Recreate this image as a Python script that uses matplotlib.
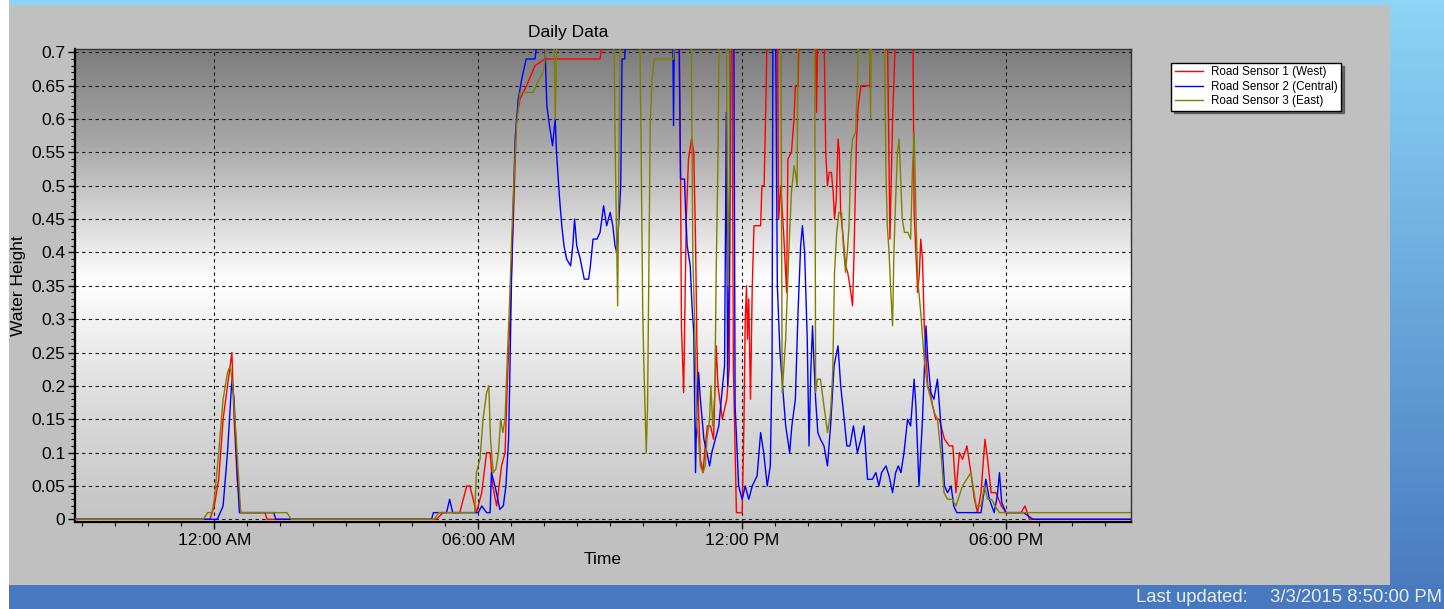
import matplotlib
matplotlib.use("Agg")
import matplotlib.pyplot as plt
import numpy as np
from matplotlib.patches import Rectangle
from matplotlib.ticker import MultipleLocator

plt.rcParams["font.family"] = ["Liberation Sans", "DejaVu Sans"]

W, H = 1444, 609

# Time axis: hours from midnight of 3/3/2015 (window 8:50 PM -> 8:50 PM).
X_START, X_END = -3 - 10 / 60, 20 + 50 / 60
X_TICKS = [0, 6, 12, 18]
X_TICK_LABELS = ["12:00 AM", "06:00 AM", "12:00 PM", "06:00 PM"]
Y_TICKS = [0, 0.05, 0.1, 0.15, 0.2, 0.25, 0.3, 0.35, 0.4, 0.45, 0.5, 0.55, 0.6, 0.65, 0.7]
Y_TICK_LABELS = ["0", "0.05", "0.1", "0.15", "0.2", "0.25", "0.3", "0.35", "0.4",
                 "0.45", "0.5", "0.55", "0.6", "0.65", "0.7"]

LABELS = ["Road Sensor 1 (West)", "Road Sensor 2 (Central)", "Road Sensor 3 (East)"]
COLORS = ["#ff0000", "#0000ff", "#808000"]

# readings of 0.75 are off the top of the 0.7 scale
RED_T = [-3.17, -0.1, 0.0, 0.1, 0.2, 0.3, 0.4, 0.45, 0.52, 0.6, 1.15, 1.2,
         5.05, 5.2, 5.58, 5.74, 5.81, 5.96, 6.0, 6.08, 6.19, 6.27, 6.33, 6.42, 6.53, 6.61,
         6.66, 6.72, 6.8, 6.87, 6.95, 7.1, 7.29, 7.52, 8.77, 8.89,
         10.57, 10.59, 10.6, 10.62, 10.67, 10.73, 10.78, 10.85, 10.9, 10.94, 10.97, 11.01,
         11.05, 11.11, 11.16, 11.21, 11.28, 11.35, 11.41, 11.45, 11.55, 11.65, 11.71, 11.74,
         11.77, 11.8, 11.84, 11.87, 12.0, 12.04, 12.07, 12.1, 12.12, 12.15, 12.19, 12.23,
         12.27, 12.42, 12.45, 12.5, 12.55, 12.57, 12.8, 12.83, 12.88, 12.95, 13.01, 13.04,
         13.12, 13.18, 13.21, 13.27, 13.3, 13.66, 13.69, 13.72, 13.86, 13.9, 13.94, 13.98,
         14.03, 14.07, 14.1, 14.14, 14.18, 14.21, 14.24, 14.3, 14.35, 14.4, 14.45, 14.51,
         14.54, 14.6, 14.64, 14.7, 14.9, 14.93, 15.3, 15.36, 15.42, 15.5, 15.88, 15.91,
         15.95, 15.99, 16.03, 16.06, 16.1, 16.14, 16.18, 16.22, 16.28, 16.33, 16.4, 16.48,
         16.6, 16.71, 16.79, 16.86, 16.94, 17.01, 17.11, 17.2, 17.28, 17.35, 17.43, 17.52,
         17.58, 17.66, 17.77, 17.89, 18.0, 18.34, 18.43, 18.53, 20.84]
RED_V = [0, 0, 0.02, 0.06, 0.15, 0.2, 0.25, 0.15, 0.06, 0.01, 0.01, 0,
         0, 0.01, 0.01, 0.05, 0.05, 0.01, 0.02, 0.04, 0.1, 0.1, 0.05, 0.02, 0.08, 0.1,
         0.2, 0.3, 0.45, 0.6, 0.63, 0.65, 0.68, 0.69, 0.69, 0.75,
         0.75, 0.6, 0.51, 0.29, 0.19, 0.45, 0.54, 0.57, 0.55, 0.42, 0.27, 0.16,
         0.09, 0.07, 0.11, 0.14, 0.14, 0.12, 0.26, 0.2, 0.15, 0.18, 0.23, 0.75,
         0.75, 0.23, 0.1, 0.01, 0.01, 0.14, 0.3, 0.35, 0.27, 0.33, 0.18, 0.35,
         0.44, 0.44, 0.5, 0.5, 0.66, 0.75, 0.75, 0.45, 0.5, 0.42, 0.34, 0.54,
         0.55, 0.6, 0.65, 0.65, 0.75, 0.75, 0.61, 0.75, 0.75, 0.55, 0.5, 0.52,
         0.52, 0.49, 0.45, 0.48, 0.57, 0.55, 0.46, 0.42, 0.38, 0.37, 0.35, 0.32,
         0.39, 0.57, 0.62, 0.65, 0.65, 0.75, 0.75, 0.42, 0.6, 0.75, 0.75, 0.46,
         0.4, 0.34, 0.37, 0.42, 0.39, 0.29, 0.25, 0.2, 0.19, 0.17, 0.15, 0.15,
         0.12, 0.11, 0.11, 0.04, 0.1, 0.09, 0.11, 0.07, 0.03, 0.01, 0.04, 0.12,
         0.09, 0.04, 0.04, 0.02, 0.01, 0.01, 0.02, 0, 0]

BLUE_T = [-3.17, 0.07, 0.2, 0.3, 0.4, 0.45, 0.5, 0.57, 1.35, 1.4,
          4.94, 4.98, 5.28, 5.35, 5.42, 6.0, 6.08, 6.19, 6.27, 6.3, 6.38, 6.43, 6.49, 6.57,
          6.63, 6.69, 6.72, 6.76, 6.8, 6.84, 6.91, 6.99, 7.09, 7.29, 7.4, 7.5, 7.56, 7.62,
          7.69, 7.75, 7.78, 7.85, 7.9, 7.95, 8.01, 8.1, 8.15, 8.19, 8.24, 8.32, 8.41, 8.51,
          8.55, 8.61, 8.7, 8.77, 8.85, 8.92, 9.0, 9.06, 9.11, 9.15, 9.2, 9.24, 9.27, 9.33,
          9.36, 10.42, 10.44, 10.46, 10.56, 10.6, 10.69, 10.71, 10.75, 10.82, 10.86, 10.9,
          10.94, 10.97, 11.01, 11.05, 11.09, 11.13, 11.2, 11.26, 11.31, 11.39, 11.47, 11.54,
          11.6, 11.64, 11.67, 11.71, 11.73, 11.81, 11.84, 11.92, 12.0, 12.07, 12.15, 12.23,
          12.34, 12.42, 12.49, 12.57, 12.64, 12.68, 12.7, 12.76, 12.8, 12.86, 12.93, 12.99,
          13.08, 13.13, 13.21, 13.27, 13.33, 13.37, 13.42, 13.48, 13.52, 13.56, 13.6, 13.63,
          13.67, 13.72, 13.78, 13.86, 13.94, 14.01, 14.09, 14.18, 14.24, 14.32, 14.38, 14.45,
          14.53, 14.62, 14.7, 14.77, 14.85, 14.96, 15.04, 15.11, 15.17, 15.27, 15.34, 15.42,
          15.49, 15.55, 15.61, 15.68, 15.76, 15.83, 15.91, 15.95, 16.02, 16.1, 16.18, 16.22,
          16.29, 16.36, 16.44, 16.52, 16.6, 16.67, 16.75, 16.81, 16.88, 17.43, 17.54, 17.62,
          17.73, 17.8, 17.85, 17.9, 18.0, 18.4, 18.61, 20.84]
BLUE_V = [0, 0, 0.02, 0.1, 0.21, 0.18, 0.1, 0.01, 0.01, 0,
          0, 0.01, 0.01, 0.03, 0.01, 0.01, 0.02, 0.01, 0.01, 0.07, 0.05, 0.035, 0.015, 0.02,
          0.05, 0.12, 0.22, 0.37, 0.48, 0.57, 0.63, 0.66, 0.69, 0.69, 0.75, 0.75, 0.62, 0.59,
          0.56, 0.6, 0.55, 0.48, 0.44, 0.41, 0.39, 0.38, 0.41, 0.45, 0.41, 0.39, 0.36, 0.36,
          0.38, 0.42, 0.42, 0.43, 0.47, 0.44, 0.46, 0.44, 0.41, 0.4, 0.45, 0.5, 0.69, 0.69,
          0.75, 0.75, 0.59, 0.75, 0.75, 0.51, 0.51, 0.47, 0.41, 0.38, 0.32, 0.28,
          0.07, 0.17, 0.22, 0.18, 0.15, 0.12, 0.1, 0.08, 0.1, 0.12, 0.14, 0.19,
          0.23, 0.61, 0.2, 0.4, 0.75, 0.75, 0.17, 0.05, 0.03, 0.05, 0.03, 0.05,
          0.065, 0.13, 0.1, 0.05, 0.08, 0.23, 0.75, 0.75, 0.35, 0.25, 0.19, 0.14,
          0.1, 0.14, 0.18, 0.31, 0.41, 0.44, 0.4, 0.27, 0.11, 0.22, 0.29, 0.24,
          0.18, 0.13, 0.12, 0.11, 0.08, 0.14, 0.23, 0.26, 0.2, 0.15, 0.11, 0.11,
          0.14, 0.1, 0.12, 0.14, 0.06, 0.06, 0.07, 0.05, 0.07, 0.08, 0.065, 0.04,
          0.07, 0.08, 0.07, 0.1, 0.15, 0.14, 0.21, 0.17, 0.05, 0.15, 0.29, 0.24,
          0.19, 0.18, 0.21, 0.14, 0.05, 0.04, 0.05, 0.02, 0.01, 0.01, 0.06, 0.03,
          0.01, 0.035, 0.07, 0.025, 0.01, 0.01, 0, 0]

OLIVE_T = [-3.17, -0.25, -0.15, -0.05, 0.0, 0.1, 0.2, 0.3, 0.36, 0.42, 0.5, 0.6, 1.65, 1.75,
           5.0, 5.1, 5.92, 5.96, 6.04, 6.11, 6.19, 6.24, 6.28, 6.34, 6.4, 6.46, 6.51, 6.56,
           6.61, 6.66, 6.71, 6.76, 6.82, 6.87, 6.95, 7.25, 7.35, 7.48, 7.52, 7.56, 7.72, 7.75,
           7.8, 9.08, 9.12, 9.17, 9.2, 9.23, 9.67, 9.7, 9.72, 9.74, 9.77, 9.79, 9.82, 9.85,
           9.87, 9.89, 9.91, 9.95, 10.0, 10.44, 10.48, 10.84, 10.86, 10.88, 10.91, 10.94,
           10.97, 11.01, 11.05, 11.11, 11.16, 11.2, 11.26, 11.29, 11.33, 11.38, 11.41, 11.45,
           11.48, 11.64, 11.68, 11.71, 11.73, 12.88, 12.91, 12.99, 13.06, 13.12, 13.18, 13.21,
           13.25, 13.27, 13.65, 13.67, 13.71, 13.78, 13.86, 13.94, 14.01, 14.06, 14.1, 14.15,
           14.2, 14.26, 14.3, 14.35, 14.39, 14.43, 14.47, 14.51, 14.58, 14.62, 14.66, 14.9,
           14.92, 14.94, 15.23, 15.27, 15.3, 15.34, 15.38, 15.42, 15.45, 15.49, 15.53, 15.57,
           15.61, 15.64, 15.69, 15.77, 15.83, 15.87, 15.91, 15.95, 15.99, 16.06, 16.14, 16.21,
           16.29, 16.37, 16.44, 16.52, 16.59, 16.67, 16.78, 16.86, 17.01, 17.2, 17.32, 17.43,
           17.51, 17.58, 17.67, 17.75, 17.85, 20.84]
OLIVE_V = [0, 0, 0.01, 0.01, 0.03, 0.1, 0.18, 0.22, 0.23, 0.2, 0.12, 0.01, 0.01, 0,
           0, 0.01, 0.01, 0.07, 0.09, 0.15, 0.19, 0.2, 0.12, 0.07, 0.075, 0.1, 0.15, 0.13,
           0.15, 0.24, 0.32, 0.42, 0.52, 0.59, 0.64, 0.64, 0.655, 0.67, 0.69, 0.75, 0.75, 0.6,
           0.75, 0.75, 0.53, 0.32, 0.55, 0.75, 0.75, 0.58, 0.44, 0.31, 0.22, 0.17, 0.1, 0.17,
           0.31, 0.45, 0.59, 0.66, 0.69, 0.69, 0.75, 0.75, 0.57, 0.39, 0.32, 0.24,
           0.14, 0.12, 0.08, 0.07, 0.08, 0.12, 0.15, 0.2, 0.14, 0.19, 0.37, 0.54,
           0.75, 0.75, 0.35, 0.5, 0.75, 0.75, 0.19, 0.27, 0.4, 0.49, 0.53, 0.52,
           0.5, 0.75, 0.75, 0.19, 0.21, 0.21, 0.17, 0.13, 0.16, 0.22, 0.37, 0.43,
           0.46, 0.46, 0.41, 0.37, 0.4, 0.44, 0.54, 0.57, 0.58, 0.65, 0.75, 0.75,
           0.6, 0.75, 0.75, 0.52, 0.44, 0.4, 0.34, 0.29, 0.4, 0.48, 0.55, 0.57,
           0.5, 0.45, 0.43, 0.43, 0.42, 0.52, 0.58, 0.46, 0.36, 0.31, 0.24, 0.2,
           0.18, 0.16, 0.15, 0.1, 0.04, 0.03, 0.03, 0.02, 0.05, 0.07, 0.02, 0.02,
           0.05, 0.03, 0.03, 0.02, 0.01, 0.01]

Y_LO, Y_HI = -0.0036, 0.7045


def vertical_gradient(stops, n=300):
    """stops: list of (fraction from top, grey level)."""
    f = np.linspace(0, 1, n)
    g = np.interp(f, [s[0] for s in stops], [s[1] for s in stops])
    return np.repeat(g[:, None, None], 3, axis=2)


fig = plt.figure(figsize=(W / 100, H / 100), dpi=100)

# window chrome behind the chart
bg = fig.add_axes([0, 0, 1, 1])
bg.axis("off")
bg.add_patch(Rectangle((9, 0), W - 9, 5, color="#8dd4f6", lw=0))
bg.add_patch(Rectangle((9, 5), 1390 - 9, 580, color="#c0c0c0", lw=0))
side = np.zeros((100, 1, 3))
side[:, 0, 0] = np.linspace(0x8c, 0x4b, 100) / 255
side[:, 0, 1] = np.linspace(0xd4, 0x7c, 100) / 255
side[:, 0, 2] = np.linspace(0xf6, 0xc0, 100) / 255
bg.imshow(side, extent=(1390, W, 585, 5), aspect="auto", origin="upper")
bg.add_patch(Rectangle((9, 585), W - 9, 24, color="#4878bd", lw=0))
bg.set_xlim(0, W)
bg.set_ylim(H, 0)
bg.text(1136, 597, "Last updated:", color="#e8ecf4", fontsize=13.3, va="center")
bg.text(1442, 597, "3/3/2015 8:50:00 PM", color="#e8ecf4", fontsize=13.3,
        va="center", ha="right")

fig.text(568 / W, 1 - 33 / H, "Daily Data", ha="center", va="center", fontsize=12.5)

ax = fig.add_axes([75 / W, (H - 521.7) / H, (1130.7 - 75) / W, (521.7 - 49.3) / H])
ax.imshow(vertical_gradient([(0, 0.49), (0.2, 0.66), (0.49, 1.0), (0.75, 0.86), (1, 0.77)]),
          extent=(X_START, X_END, Y_LO, Y_HI), aspect="auto", origin="upper", zorder=0)

series = [(RED_T, RED_V), (BLUE_T, BLUE_V), (OLIVE_T, OLIVE_V)]
handles = []
for (t, v), color, label in zip(series, COLORS, LABELS):
    line, = ax.plot(t, v, color=color, lw=1.0, label=label, zorder=3)
    handles.append(line)

ax.set_xlim(X_START, X_END)
ax.set_ylim(Y_LO, Y_HI)
ax.set_xticks(X_TICKS)
ax.set_xticklabels(X_TICK_LABELS)
ax.set_yticks(Y_TICKS)
ax.set_yticklabels(Y_TICK_LABELS)
ax.xaxis.set_minor_locator(MultipleLocator(0.75))
ax.yaxis.set_minor_locator(MultipleLocator(0.01))
ax.tick_params(which="major", direction="out", length=5, width=1, labelsize=12.5)
ax.tick_params(axis="x", which="major", pad=3)
ax.tick_params(axis="y", which="major", pad=2)
ax.tick_params(which="minor", direction="out", length=3, width=0.8)
ax.grid(True, which="major", color="#1a1a1a", linestyle=(0, (3, 3)), linewidth=0.8)

for side_name in ("left", "bottom"):
    ax.spines[side_name].set_linewidth(1.6)
    ax.spines[side_name].set_color("black")
for side_name in ("top", "right"):
    ax.spines[side_name].set_linewidth(1.0)
    ax.spines[side_name].set_color("#333333")

ax.set_xlabel("Time", fontsize=12.5, labelpad=3)
ax.set_ylabel("Water Height", fontsize=12.5, labelpad=4)

fig.legend(handles, LABELS, loc="upper left", bbox_to_anchor=(1171 / W, 1 - 63 / H),
           fontsize=8.4, frameon=True, fancybox=False,
           shadow={"color": "0.35", "alpha": 0.9}, edgecolor="black",
           framealpha=1, handlelength=2.4, handletextpad=0.7, labelspacing=0.2,
           borderpad=0.3, borderaxespad=0)

fig.savefig("out.png", dpi=100)
